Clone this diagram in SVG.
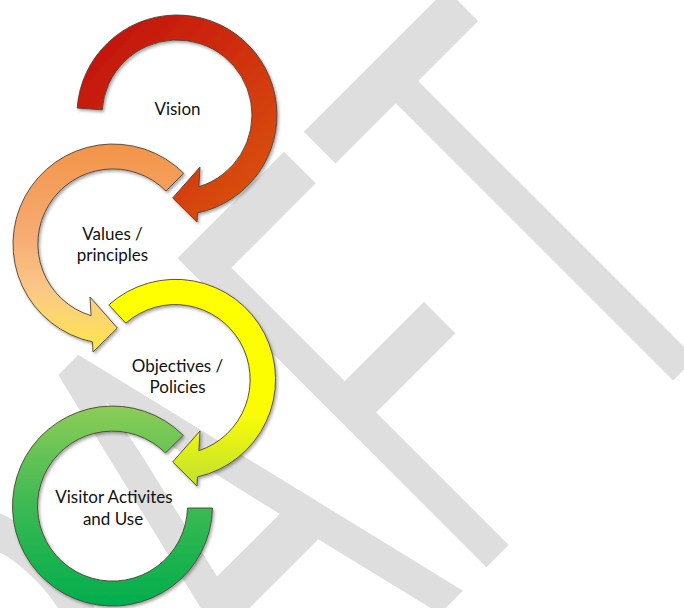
<svg xmlns="http://www.w3.org/2000/svg" width="684" height="608" viewBox="0 0 684 608">
<defs>
<style>
.wm{font-family:"Open Sans",sans-serif;font-size:612px;fill:#dedede}
.ring{stroke:#4f4232;stroke-width:0.9;stroke-linejoin:miter;filter:url(#sh)}
.lbl{font-family:Lato,"Liberation Sans",sans-serif;font-size:17px;fill:#111;text-anchor:middle}
</style>
<filter id="sh" x="-10%" y="-10%" width="130%" height="130%">
<feDropShadow dx="1.5" dy="2" stdDeviation="1.6" flood-color="#000" flood-opacity="0.35"/>
</filter>
<linearGradient id="gRed" x1="0" y1="0" x2="1" y2="1">
<stop offset="0" stop-color="#c00c0a"/>
<stop offset="0.5" stop-color="#cf300a"/>
<stop offset="1" stop-color="#dc5a12"/>
</linearGradient>
<linearGradient id="gOrange" x1="0" y1="0" x2="0" y2="1">
<stop offset="0" stop-color="#f39448"/>
<stop offset="0.45" stop-color="#f6ac74"/>
<stop offset="0.7" stop-color="#fbc888"/>
<stop offset="1" stop-color="#fde84a"/>
</linearGradient>
<linearGradient id="gYellow" x1="0" y1="0" x2="0" y2="1">
<stop offset="0" stop-color="#ffff00"/>
<stop offset="0.65" stop-color="#fbfc06"/>
<stop offset="1" stop-color="#bfe032"/>
</linearGradient>
<linearGradient id="gGreen" x1="0" y1="0" x2="0" y2="1">
<stop offset="0" stop-color="#8ccd58"/>
<stop offset="0.5" stop-color="#3cb952"/>
<stop offset="1" stop-color="#00ae4e"/>
</linearGradient>
</defs>
<rect width="684" height="608" fill="#fff"/>
<g id="watermark" transform="rotate(-45) scale(0.62 1)">
<text class="wm" x="-1345 -905 -532 -152 190.8" y="745">DRAFT</text>
</g>
<g id="vision">
<path class="ring" fill="url(#gRed)" d="M77.2,108 A100,100 0 1 1 197.5,212.9 L197,222 L172.7,197.9 L200,167 L198.9,186.7 A75,75 0 1 0 102.2,109.8 Z"/>
<text class="lbl" x="177.5" y="115">Vision</text>
</g>
<g id="values">
<path class="ring" fill="url(#gOrange)" d="M183.7,173.3 A100,100 0 1 0 92.5,341.9 L93,352 L117.3,328 L90,297 L91.1,315.7 A75,75 0 1 1 166,191 Z"/>
<text class="lbl" x="112.5" y="240">Values /</text>
<text class="lbl" x="112.5" y="261">principles</text>
</g>
<g id="objectives">
<path class="ring" fill="url(#gYellow)" d="M108.8,304.9 A100,100 0 1 1 197.5,476.9 L197,486 L172.7,461.9 L200,431 L198.9,450.7 A75,75 0 1 0 125.8,323.1 Z"/>
<text class="lbl" x="177.5" y="372">Objectives /</text>
<text class="lbl" x="177.5" y="393">Policies</text>
</g>
<g id="visitor">
<path class="ring" fill="url(#gGreen)" d="M183.2,435.3 A100,100 0 1 0 212.5,508 L187.5,508 A75,75 0 1 1 165.5,453 Z"/>
<text class="lbl" x="114" y="503">Visitor Activites</text>
<text class="lbl" x="113" y="525">and Use</text>
</g>
<g id="connectors"/>
</svg>
